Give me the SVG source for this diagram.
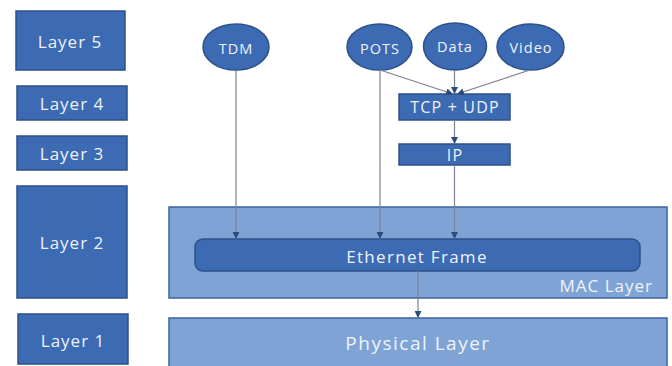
<svg xmlns="http://www.w3.org/2000/svg" width="672" height="366" viewBox="0 0 672 366">
  <defs>
    <marker id="arrow" viewBox="0 0 10 10" refX="10" refY="5" markerWidth="7" markerHeight="7" orient="auto" markerUnits="userSpaceOnUse">
      <path d="M0,0 L10,5 L0,10 z" fill="#2c4a7c"/>
    </marker>
    <style>
      .dark { fill: #3c6ab3; stroke: #2d5189; stroke-width: 1.5; }
      .light { fill: #7fa3d4; stroke: #3d63a0; stroke-width: 1.5; }
      .lbl { font-family: "Open Sans", "Noto Sans", sans-serif; fill: #eef3fb; text-anchor: middle; dominant-baseline: central; }
      .big { font-size: 17px; letter-spacing: 1px; }
      .small { font-size: 14.5px; letter-spacing: 1px; }
      .mid { font-size: 16px; letter-spacing: 1.2px; }
      .conn { stroke: #7b8290; stroke-width: 1.2; fill: none; }
    </style>
  </defs>
  <rect width="672" height="366" fill="#ffffff"/>

  <!-- layer legend column -->
  <g id="layer5"><rect class="dark" x="16" y="11" width="109" height="59"/><text class="lbl big" x="70" y="41">Layer 5</text></g>
  <g id="layer4"><rect class="dark" x="17" y="86" width="110" height="34"/><text class="lbl big" x="72" y="103">Layer 4</text></g>
  <g id="layer3"><rect class="dark" x="17" y="136" width="110" height="34"/><text class="lbl big" x="72" y="153">Layer 3</text></g>
  <g id="layer2"><rect class="dark" x="17" y="186" width="110" height="112"/><text class="lbl big" x="72" y="242">Layer 2</text></g>
  <g id="layer1"><rect class="dark" x="18" y="314" width="110" height="50"/><text class="lbl big" x="73" y="340">Layer 1</text></g>

  <!-- MAC / physical containers -->
  <g id="mac"><rect class="light" x="169" y="207" width="498" height="91"/><text class="lbl big" x="653" y="285" style="text-anchor:end">MAC Layer</text></g>
  <g id="physical"><rect class="light" x="169" y="318" width="498" height="52"/><text class="lbl" x="418" y="343" font-size="19" letter-spacing="1.5">Physical Layer</text></g>
  <g id="ethernet"><rect class="dark" x="195" y="239" width="445" height="32" rx="8"/><text class="lbl" x="417" y="256" font-size="17" letter-spacing="1.3">Ethernet Frame</text></g>

  <!-- services -->
  <g id="tdm"><ellipse class="dark" cx="236" cy="47" rx="33" ry="23"/><text class="lbl small" x="236" y="48">TDM</text></g>
  <g id="pots"><ellipse class="dark" cx="379.5" cy="47" rx="32.5" ry="23"/><text class="lbl small" x="380" y="48">POTS</text></g>
  <g id="data"><ellipse class="dark" cx="455" cy="46.5" rx="31.5" ry="23.5"/><text class="lbl small" x="455" y="46">Data</text></g>
  <g id="video"><ellipse class="dark" cx="530.5" cy="47" rx="33.5" ry="23"/><text class="lbl small" x="531" y="47">Video</text></g>

  <!-- transport / network -->
  <g id="tcpudp"><rect class="dark" x="399" y="94" width="111" height="26"/><text class="lbl mid" x="455" y="107">TCP + UDP</text></g>
  <g id="ip"><rect class="dark" x="399" y="144" width="111" height="21"/><text class="lbl mid" x="455" y="155">IP</text></g>

  <!-- connectors -->
  <g id="connectors">
    <line class="conn" x1="380" y1="70" x2="453" y2="94" marker-end="url(#arrow)"/>
    <line class="conn" x1="454.5" y1="70" x2="454.5" y2="94" marker-end="url(#arrow)"/>
    <line class="conn" x1="530" y1="70" x2="457" y2="94" marker-end="url(#arrow)"/>
    <line class="conn" x1="454.5" y1="120" x2="454.5" y2="144" marker-end="url(#arrow)"/>
    <line class="conn" x1="236" y1="70" x2="236" y2="239" marker-end="url(#arrow)"/>
    <line class="conn" x1="380" y1="70" x2="380" y2="239" marker-end="url(#arrow)"/>
    <line class="conn" x1="454.5" y1="165" x2="454.5" y2="239" marker-end="url(#arrow)"/>
    <line class="conn" x1="418" y1="271" x2="418" y2="318" marker-end="url(#arrow)"/>
  </g>
</svg>
